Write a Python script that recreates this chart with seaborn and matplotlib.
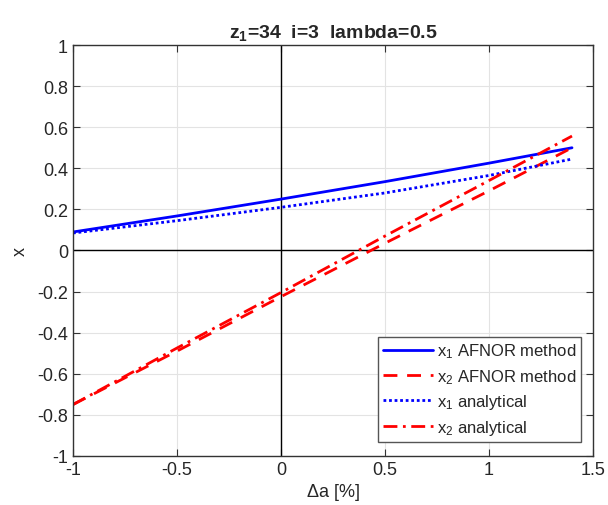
import numpy as np
import pandas as pd
import matplotlib
matplotlib.use('Agg')
import matplotlib.pyplot as plt
import seaborn as sns

delta_a = [-1.0, -0.5, 0.0, 0.5, 1.0, 1.4]
x1_afnor = [0.09, 0.168, 0.25, 0.335, 0.425, 0.50]
x2_afnor = [-0.75, -0.49, -0.225, 0.035, 0.29, 0.50]
x1_analytical = [0.085, 0.145, 0.21, 0.28, 0.365, 0.445]
x2_analytical = [-0.75, -0.475, -0.205, 0.07, 0.34, 0.557]

series = [
    ('$\\mathregular{x_1}$ AFNOR method', x1_afnor, 'blue', '-'),
    ('$\\mathregular{x_2}$ AFNOR method', x2_afnor, 'red', (0, (5, 3.5))),
    ('$\\mathregular{x_1}$ analytical', x1_analytical, 'blue', (0, (1, 1))),
    ('$\\mathregular{x_2}$ analytical', x2_analytical, 'red', (0, (5, 2, 1, 2))),
]

sns.set_style('ticks')
plt.rcParams['font.family'] = ['Liberation Sans', 'DejaVu Sans']
plt.rcParams['mathtext.fontset'] = 'custom'
plt.rcParams['mathtext.rm'] = 'Liberation Sans'
plt.rcParams['mathtext.bf'] = 'Liberation Sans:bold'

fig = plt.figure(figsize=(6.08, 5.06), dpi=100)
ax_ = fig.add_axes([0.12, 0.097, 0.855, 0.812])

for label_, vals, color_, ls_ in series:
    df = pd.DataFrame({'da': delta_a, 'x': vals})
    sns.lineplot(data=df, x='da', y='x', color=color_, linestyle=ls_,
                 linewidth=2, label=label_, ax=ax_)

ax_.axhline(0, color='black', linewidth=1, zorder=1)
ax_.axvline(0, color='black', linewidth=1, zorder=1)

ax_.set_xlim(-1, 1.5)
ax_.set_ylim(-1, 1)
ax_.set_xticks([-1, -0.5, 0, 0.5, 1, 1.5])
ax_.set_xticklabels(['-1', '-0.5', '0', '0.5', '1', '1.5'])
ax_.set_yticks(np.round(np.arange(-1, 1.01, 0.2), 1))
ax_.set_yticklabels(['-1', '-0.8', '-0.6', '-0.4', '-0.2', '0', '0.2', '0.4', '0.6', '0.8', '1'])
ax_.grid(True, color='#e3e3e3', linewidth=0.8)
ax_.set_axisbelow(True)
ax_.tick_params(direction='in', top=True, right=True, labelsize=13, length=5, color='#333333')
for s in ax_.spines.values():
    s.set_color('#333333')
    s.set_linewidth(1)

ax_.set_xlabel('$\\mathregular{\\Delta}$a [%]', fontsize=13, labelpad=2)
ax_.set_ylabel('x', fontsize=13, labelpad=6)
ax_.set_title('$\\mathbf{z_1}$=34  i=3  lambda=0.5', fontsize=14, fontweight='bold', pad=6)

leg = ax_.legend(loc='lower right', fontsize=12, frameon=True, fancybox=False,
                 edgecolor='#555555', framealpha=1, handlelength=3.0,
                 handletextpad=0.2, borderpad=0.3, labelspacing=0.4,
                 borderaxespad=0, bbox_to_anchor=(0.977, 0.034))
leg.get_frame().set_linewidth(1)

plt.savefig('out.png', dpi=100)
